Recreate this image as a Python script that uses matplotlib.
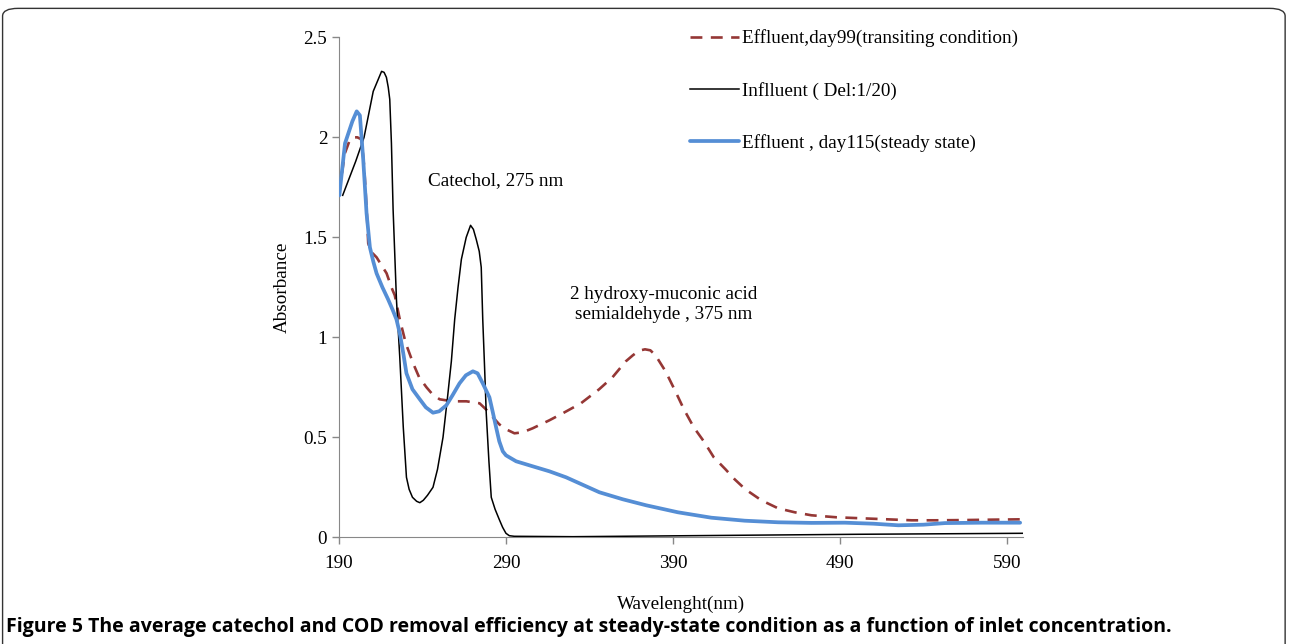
import matplotlib
matplotlib.use("Agg")
import matplotlib.pyplot as plt
from matplotlib.patches import FancyBboxPatch

# Effluent, day 99 (transiting condition)
wl_day99 = [190, 193.5, 196.6, 198.5, 201, 203.5, 205.1, 206.5, 207.5, 209, 212.5,
            218.5, 221.4, 223.4, 226.4, 230, 234.4, 238, 242.4, 246, 250.3, 258,
            266.3, 274.2, 278, 282.2, 286, 290.1, 295.1, 300, 306, 316, 324, 334.9,
            345.8, 353.8, 361.8, 366, 369.7, 373.3, 376.5, 379.6, 385.6, 391.5, 396.6,
            402.5, 408.5, 414.5, 421.5, 427, 433.4, 443, 453, 463, 473, 488, 503,
            518, 533, 548, 563, 580, 600]
abs_day99 = [1.72, 1.92, 1.99, 2.00, 2.00, 1.99, 1.85, 1.65, 1.47, 1.43, 1.40,
             1.32, 1.25, 1.21, 1.09, 0.97, 0.87, 0.80, 0.75, 0.715, 0.69, 0.68,
             0.68, 0.67, 0.64, 0.60, 0.565, 0.54, 0.52, 0.525, 0.545, 0.585, 0.62,
             0.67, 0.74, 0.80, 0.88, 0.91, 0.933, 0.94, 0.935, 0.91, 0.83, 0.73,
             0.64, 0.55, 0.48, 0.40, 0.34, 0.29, 0.24, 0.185, 0.145, 0.125, 0.11,
             0.10, 0.095, 0.09, 0.085, 0.085, 0.086, 0.088, 0.09]

# Influent (Del: 1/20)
wl_infl = [192.2, 200, 205, 210.5, 213, 215.5, 217, 218.4, 219.5, 220.4, 221.4,
           222.4, 224.4, 226.4, 228.5, 230.4, 232, 234, 236.5, 238.4, 240.5, 243,
           246.3, 249, 252.3, 255, 257.3, 259.3, 261.3, 263.3, 266.2, 268.8, 270.5,
           272.2, 274, 275.2, 276.1, 277.2, 278.2, 279.8, 281.2, 283.5, 286.1, 288,
           290, 292, 295, 330, 400, 500, 600]
abs_infl = [1.71, 1.88, 2.00, 2.23, 2.28, 2.33, 2.325, 2.30, 2.25, 2.19, 1.97,
            1.64, 1.19, 0.90, 0.55, 0.30, 0.24, 0.20, 0.18, 0.173, 0.185, 0.21,
            0.25, 0.34, 0.50, 0.70, 0.88, 1.09, 1.25, 1.39, 1.50, 1.56, 1.54,
            1.49, 1.43, 1.35, 1.09, 0.85, 0.62, 0.38, 0.20, 0.14, 0.087, 0.05,
            0.02, 0.008, 0.005, 0.003, 0.008, 0.015, 0.02]

# Effluent, day 115 (steady state)
wl_day115 = [190.2, 193.6, 195.6, 198, 200.6, 202.5, 204.5, 206.5, 208.5, 210.5,
             212.5, 216, 219.4, 222, 224.4, 226.4, 228.5, 230.4, 234, 238.4, 242,
             246.3, 250, 254.3, 258, 262.2, 266, 270.2, 273, 276.1, 280.1, 282, 284.1,
             286, 288.1, 290, 292, 296.1, 306, 316, 326, 334, 346, 360, 374, 393,
             413, 433, 453, 473, 493, 510, 525, 540, 553, 575, 598]
abs_day115 = [1.71, 1.97, 2.02, 2.08, 2.13, 2.11, 1.89, 1.62, 1.45, 1.38,
              1.32, 1.25, 1.19, 1.14, 1.09, 1.02, 0.92, 0.82, 0.74, 0.69, 0.65,
              0.623, 0.63, 0.66, 0.71, 0.77, 0.81, 0.83, 0.82, 0.77, 0.70, 0.63,
              0.55, 0.48, 0.43, 0.41, 0.40, 0.38, 0.355, 0.33, 0.30, 0.27, 0.225,
              0.19, 0.16, 0.125, 0.098, 0.083, 0.075, 0.072, 0.073, 0.068, 0.06,
              0.063, 0.071, 0.073, 0.073]

x_ticks = [190, 290, 390, 490, 590]
y_ticks = [0, 0.5, 1, 1.5, 2, 2.5]
y_tick_labels = ["0", "0.5", "1", "1.5", "2", "2.5"]

plt.rcParams["font.family"] = ["Liberation Serif", "DejaVu Serif"]
fs = 13.75

fig = plt.figure(figsize=(12.89, 6.44), dpi=100)
ax = fig.add_axes([0.263, 0.1657, 0.531, 0.7763])

ax.plot(wl_day99, abs_day99, color="#953735", lw=1.9, dashes=(4.5, 3.2),
        label="Effluent,day99(transiting condition)", zorder=2)
ax.plot(wl_infl, abs_infl, color="black", lw=1.1,
        label="Inflluent ( Del:1/20)", zorder=3)
ax.plot(wl_day115, abs_day115, color="#558ed5", lw=2.7, solid_capstyle="round",
        solid_joinstyle="round", label="Effluent , day115(steady state)", zorder=4)

ax.set_xlim(190, 600)
ax.set_ylim(0, 2.5)
ax.set_xticks(x_ticks)
ax.set_yticks(y_ticks)
ax.set_yticklabels(y_tick_labels)
ax.tick_params(axis="both", labelsize=fs, color="#888888", length=5, width=1)
ax.tick_params(axis="x", pad=8)
for side in ("top", "right"):
    ax.spines[side].set_visible(False)
for side in ("left", "bottom"):
    ax.spines[side].set_color("#888888")

ax.set_xlabel("Wavelenght(nm)", fontsize=fs, labelpad=17)
ax.set_ylabel("Absorbance", fontsize=fs, labelpad=9)

ax.text(284, 1.785, "Catechol, 275 nm", fontsize=fs, ha="center", va="center")
ax.text(384.6, 1.165, "2 hydroxy-muconic acid\nsemialdehyde , 375 nm", fontsize=fs,
        ha="center", va="center", linespacing=1.2)

ax.legend(loc="upper left", bbox_to_anchor=(0.5124, 1.016), frameon=False,
          fontsize=fs, handlelength=2.6, handletextpad=0.15, labelspacing=1.8,
          borderpad=0, borderaxespad=0)

fig.text(0.005, 0.026,
         "Figure 5 The average catechol and COD removal efficiency at steady-state "
         "condition as a function of inlet concentration.",
         fontsize=14.0, fontweight="bold", family="Open Sans", va="center", ha="left")

border = FancyBboxPatch((0.002, -0.05), 0.995, 1.037, boxstyle="round,pad=0,rounding_size=0.012",
                        transform=fig.transFigure, fill=False, ec="#333333", lw=1.0)
fig.patches.append(border)

fig.savefig("out.png", dpi=100)
